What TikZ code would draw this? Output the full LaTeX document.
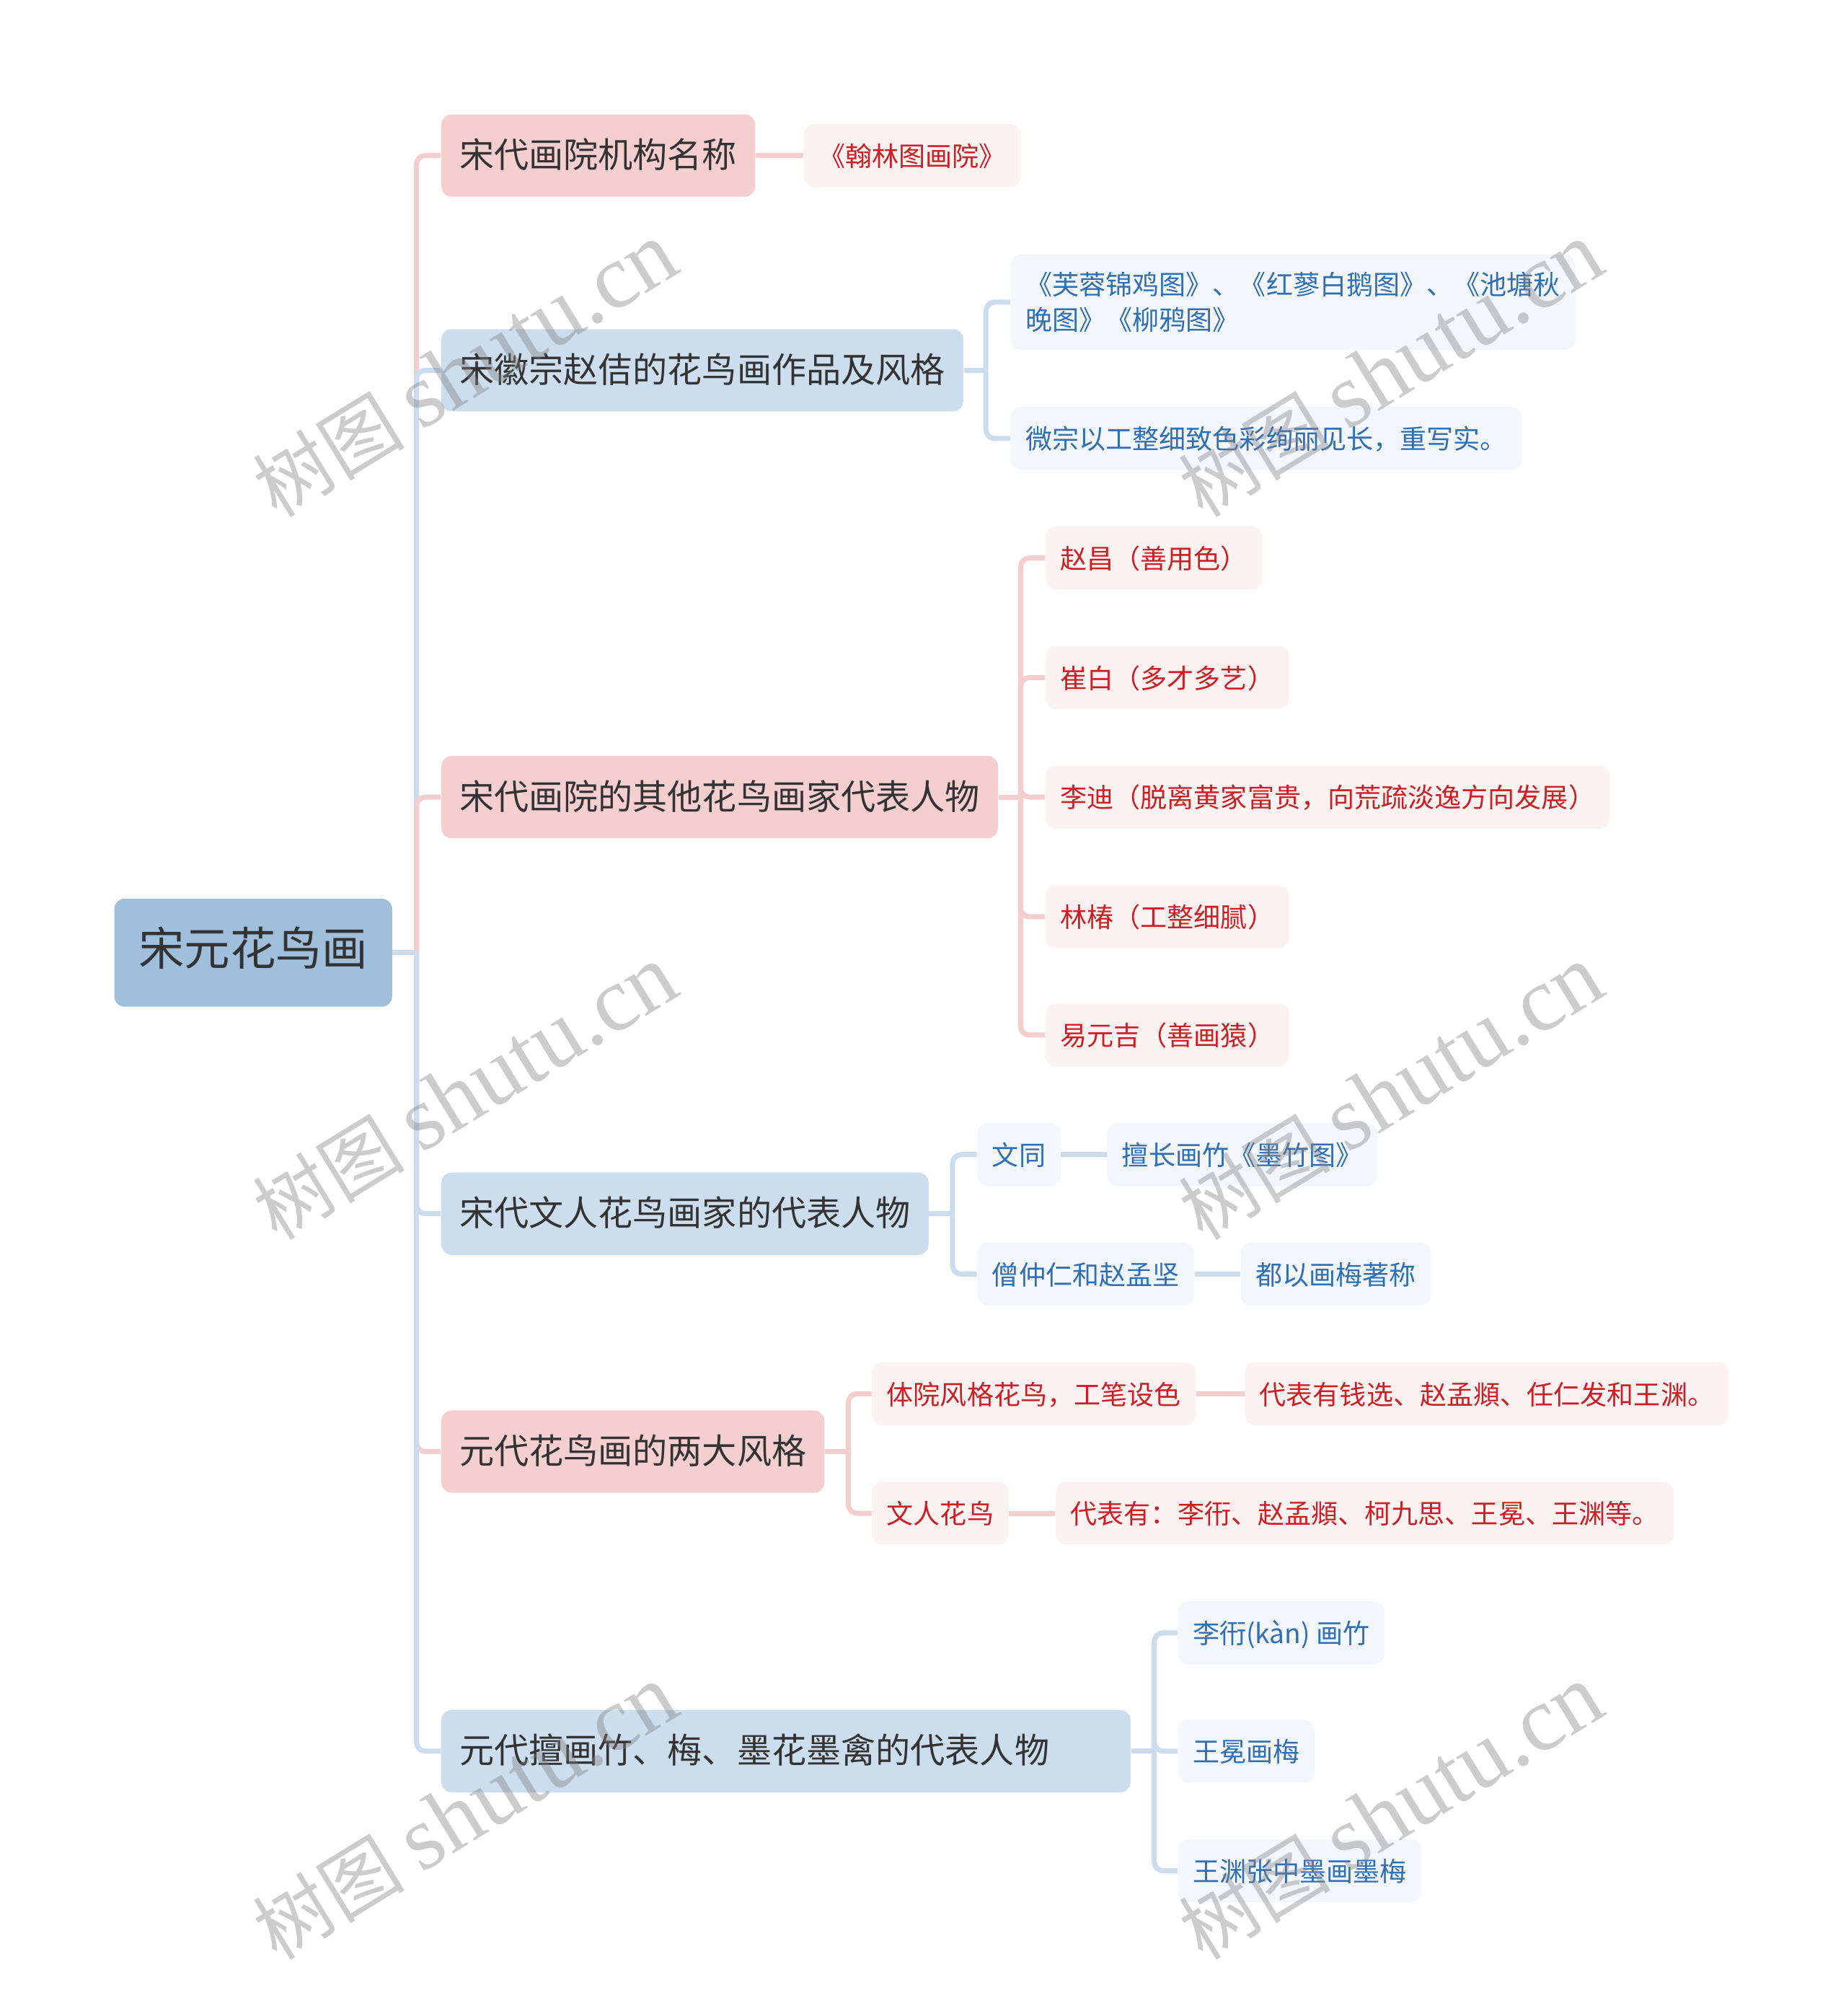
\documentclass[tikz,border=0pt]{standalone}
\usepackage{fontspec}
\setmainfont{Noto Sans CJK SC}
\newfontfamily\wmserif{Liberation Serif}
\usetikzlibrary{positioning}

\definecolor{rootblue}{HTML}{9FBFDC}
\definecolor{pinkbox}{HTML}{F5CFD0}
\definecolor{bluebox}{HTML}{CCDDED}
\definecolor{pinkleaf}{HTML}{FCF2F2}
\definecolor{blueleaf}{HTML}{F3F7FC}
\definecolor{redtext}{HTML}{CC1F24}
\definecolor{bluetext}{HTML}{2F6FB6}
\definecolor{darktext}{HTML}{333333}
\definecolor{pinkline}{HTML}{F4CDCE}
\definecolor{blueline}{HTML}{CBDCEE}

\begin{document}
\begin{tikzpicture}[x=0.017827cm, y=-0.017827cm,
  rootnode/.style={fill=rootblue, text=darktext, rounded corners=4pt,
    minimum width=3.851cm, minimum height=1.497cm, inner sep=0pt,
    font=\fontsize{18.06pt}{22pt}\selectfont, text height=1.02em, text depth=0em},
  topic/.style={fill=#1, text=darktext, rounded corners=4pt, anchor=west,
    inner xsep=0.25cm, inner ysep=0pt, minimum height=1.141cm,
    font=\fontsize{13.69pt}{16pt}\selectfont, text height=0.98em, text depth=0.02em},
  leafbase/.style={rounded corners=4pt, anchor=west, inner xsep=0.205cm,
    inner ysep=0pt, minimum height=0.8735cm,
    font=\fontsize{10.55pt}{13.7pt}\selectfont},
  leafred/.style={leafbase, fill=pinkleaf, text=redtext, text height=0.92em, text depth=0.08em},
  leafblue/.style={leafbase, fill=blueleaf, text=bluetext, text height=0.92em, text depth=0.08em},
  conn/.style={draw=#1, line width=2pt, rounded corners=3.5pt},
  watermark/.style={rotate=31.5, text=gray, text opacity=0.4, inner sep=0pt,
    font=\fontsize{30pt}{36pt}\selectfont}]
  \useasboundingbox (0,0) rectangle (1436,1568);

  % Root and main topics
  \node[rootnode] (root) at (197,741) {宋元花鸟画};
  \node[topic=pinkbox] (inst) at (343,121) {宋代画院机构名称};
  \node[topic=bluebox] (huizong) at (343,288) {宋徽宗赵佶的花鸟画作品及风格};
  \node[topic=pinkbox] (academy) at (343,620) {宋代画院的其他花鸟画家代表人物};
  \node[topic=bluebox] (literati) at (343,944) {宋代文人花鸟画家的代表人物};
  \node[topic=pinkbox] (yuanstyle) at (343,1129) {元代花鸟画的两大风格};
  \node[topic=bluebox, text width=9.055cm, align=left] (yuanink) at (343,1362) {元代擅画竹、梅、墨花墨禽的代表人物};

  % Song academy name
  \node[leafred] (hanlin) at (625,121) {《翰林图画院》};

  % Huizong
  \node[leafbase, fill=blueleaf, text=bluetext, align=left, minimum height=1.319cm] (works) at (786,235)
    {《芙蓉锦鸡图》、《红蓼白鹅图》、《池塘秋\\晚图》《柳鸦图》};
  \node[leafblue] (manner) at (786,341) {微宗以工整细致色彩绚丽见长，重写实。};

  % Other academy painters
  \node[leafred] (zhaochang) at (813,434) {赵昌（善用色）};
  \node[leafred] (cuibai) at (813,527) {崔白（多才多艺）};
  \node[leafred] (lidi) at (813,620) {李迪（脱离黄家富贵，向荒疏淡逸方向发展）};
  \node[leafred] (linchun) at (813,713) {林椿（工整细腻）};
  \node[leafred] (yiyuanji) at (813,805) {易元吉（善画猿）};

  % Literati painters
  \node[leafblue] (wentong) at (760,898) {文同};
  \node[leafblue] (mozhu) at (861,898) {擅长画竹《墨竹图》};
  \node[leafblue] (zhongren) at (760,991) {僧仲仁和赵孟坚};
  \node[leafblue] (plum) at (965,991) {都以画梅著称};

  % Yuan styles
  \node[leafred] (yuanti) at (678,1084) {体院风格花鸟，工笔设色};
  \node[leafred] (qianxuan) at (968,1084) {代表有钱选、赵孟頫、任仁发和王渊。};
  \node[leafred] (wenren) at (678,1177) {文人花鸟};
  \node[leafred] (likanlist) at (821,1177) {代表有：李衎、赵孟頫、柯九思、王冕、王渊等。};

  % Yuan ink painters
  \node[leafblue] (likan) at (916,1270) {李衎(kàn) 画竹};
  \node[leafblue] (wangmian) at (916,1362) {王冕画梅};
  \node[leafblue] (wangyuan) at (916,1455) {王渊张中墨画墨梅};

  % Connectors
  \coordinate (hub) at (324,741);
  \foreach \b/\c in {inst/pinkline, huizong/blueline, academy/pinkline,
                     literati/blueline, yuanstyle/pinkline, yuanink/blueline}
    \draw[conn=\c] (hub) |- (\b.west);
  \draw[conn=blueline] (root.east) -- (hub);

  \draw[conn=pinkline] (inst.east) -- (hanlin.west);

  \coordinate (hub2) at (767,288);
  \draw[conn=blueline] (huizong.east) -- (hub2);
  \foreach \l in {works, manner}
    \draw[conn=blueline] (hub2) |- (\l.west);

  \coordinate (hub3) at (794,620);
  \draw[conn=pinkline] (academy.east) -- (hub3);
  \foreach \l in {zhaochang, cuibai, lidi, linchun, yiyuanji}
    \draw[conn=pinkline] (hub3) |- (\l.west);

  \coordinate (hub4) at (741,944);
  \draw[conn=blueline] (literati.east) -- (hub4);
  \foreach \l in {wentong, zhongren}
    \draw[conn=blueline] (hub4) |- (\l.west);
  \draw[conn=blueline] (wentong.east) -- (mozhu.west);
  \draw[conn=blueline] (zhongren.east) -- (plum.west);

  \coordinate (hub5) at (660,1129);
  \draw[conn=pinkline] (yuanstyle.east) -- (hub5);
  \foreach \l in {yuanti, wenren}
    \draw[conn=pinkline] (hub5) |- (\l.west);
  \draw[conn=pinkline] (yuanti.east) -- (qianxuan.west);
  \draw[conn=pinkline] (wenren.east) -- (likanlist.west);

  \coordinate (hub6) at (898,1362);
  \draw[conn=blueline] (yuanink.east) -- (hub6);
  \foreach \l in {likan, wangmian, wangyuan}
    \draw[conn=blueline] (hub6) |- (\l.west);

  % Watermarks
  \foreach \x in {362,1082}
    \foreach \y in {288,850,1410}
      \node[watermark] (wm-\x-\y) at (\x,\y) {树图 {\wmserif\fontsize{36pt}{40pt}\selectfont shutu.cn}};
\end{tikzpicture}
\end{document}
